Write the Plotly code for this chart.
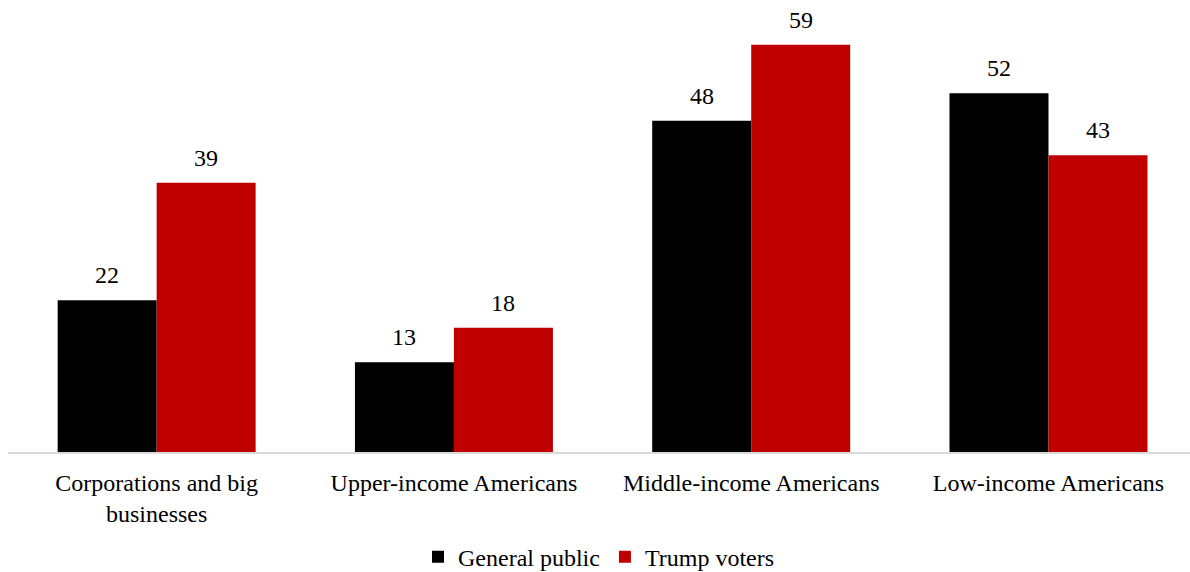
import plotly.graph_objects as go

categories = ["Corporations and big<br>businesses", "Upper-income Americans",
              "Middle-income Americans", "Low-income Americans"]
general_public = [22, 13, 48, 52]
trump_voters = [39, 18, 59, 43]

FONT = "Liberation Serif"
BLACK = "#000000"
RED = "#C00000"

fig = go.Figure()
fig.add_bar(x=categories, y=general_public, name="General public",
            marker=dict(color=BLACK, line=dict(width=0)))
fig.add_bar(x=categories, y=trump_voters, name="Trump voters",
            marker=dict(color=RED, line=dict(width=0)))

# value labels above each bar
half = 0.1665  # half of one bar width in category units
for i, cat in enumerate(categories):
    for vals, sign in ((general_public, -1), (trump_voters, 1)):
        fig.add_annotation(x=i + sign * half, y=vals[i], xref="x", yref="y",
                           text=str(vals[i]), showarrow=False,
                           yanchor="bottom", yshift=10,
                           font=dict(family=FONT, size=24, color="#000000"))

fig.update_layout(
    width=1190, height=572,
    margin=dict(l=8, r=0, t=0, b=120, autoexpand=False),
    paper_bgcolor="white", plot_bgcolor="white",
    barmode="group", bargap=0.334, bargroupgap=0,
    font=dict(family=FONT, size=24, color="#000000"),
    showlegend=True,
    legend=dict(orientation="h", x=0.5, xanchor="center",
                yref="container", y=0.026, yanchor="middle",
                font=dict(family=FONT, size=24), itemwidth=30,
                traceorder="normal"),
    xaxis=dict(type="category", range=[-0.5, 3.476], showline=True,
               linecolor="#D9D9D9", linewidth=2, ticks="", showgrid=False,
               ticklabelstandoff=8, automargin=False,
               tickfont=dict(family=FONT, size=24)),
    yaxis=dict(range=[0, 65.5], visible=False, showgrid=False),
)

fig.write_html("out.html")
